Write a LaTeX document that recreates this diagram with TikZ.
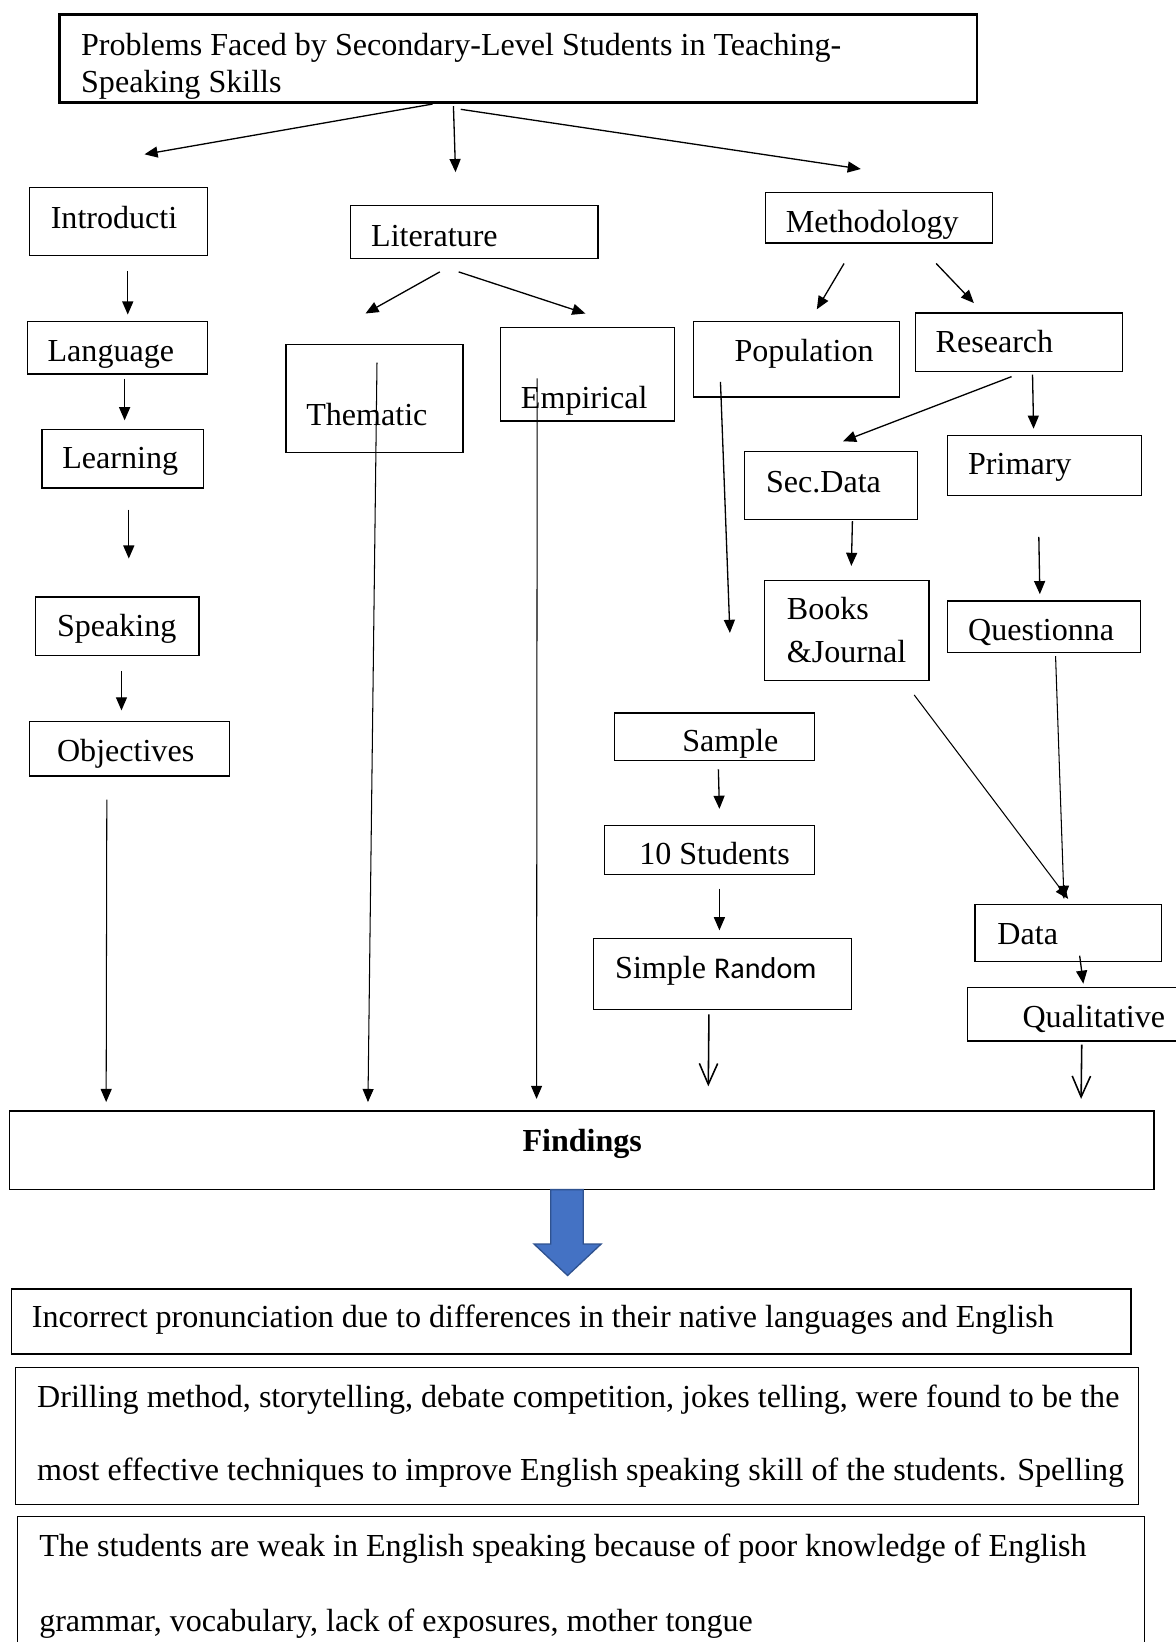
\documentclass[tikz,border=0pt]{standalone}
\usepackage{fontspec}
\setmainfont{Liberation Serif}
\newfontfamily\calibfont{Carlito}
\usepackage{tikz}
\usepackage{xcolor}
\usetikzlibrary{
  positioning, arrows.meta, calc, fit,
}
\definecolor{cBlock}    {HTML}{4472C4}
\definecolor{cBlockEdge}{HTML}{2F528F}

\tikzset{
  box/.style={draw, line width=0.5pt, inner sep=0pt},
  lbl/.style={anchor=base west, inner sep=0pt, font=\fontsize{12.25}{14}\selectfont},
  arr/.style={-{Triangle[length=5pt,width=4.2pt]}, line width=0.5pt},
  thinarr/.style={-{Triangle[length=5pt,width=4.2pt]}, line width=0.4pt},
  openarr/.style={-{Straight Barb[length=8pt,width=7pt]}, line width=0.6pt},
}

\begin{document}
\begin{tikzpicture}[x=0.4pt, y=-0.4pt]
        \path[use as bounding box] (0,0) rectangle (1123,1568);
        \clip (0,0) rectangle (1123,1568);

        % title
        \node[box, line width=1.1pt, fit={(57,14) (933,98)}] (title) {};
        \node[lbl] (title-a) at (77,53) {Problems Faced by Secondary-Level Students in Teaching-};
        \node[lbl] (title-b) at (77,88) {Speaking Skills};

        % first row
        \node[box, fit={(28,179) (198,244)}] (intro) {};
        \node[lbl] (intro-t) at (48,218) {Introducti};
        \node[box, fit={(335,196) (571,247)}] (lit) {};
        \node[lbl] (lit-t) at (354,235) {Literature};
        \node[box, fit={(731,184) (948,232)}] (meth) {};
        \node[lbl] (meth-t) at (750,222) {Methodology};

        % introduction column
        \node[box, fit={(26,307) (198,357)}] (lang) {};
        \node[lbl] (lang-t) at (45,345) {Language};
        \node[box, fit={(40,410) (194,466)}] (learn) {};
        \node[lbl] (learn-t) at (59,447) {Learning};
        \node[box, fit={(34,570) (190,626)}] (speak) {};
        \node[lbl] (speak-t) at (54,608) {Speaking};
        \node[box, fit={(28,689) (219,741)}] (obj) {};
        \node[lbl] (obj-t) at (54,727) {Objectives};

        % literature column
        \node[box, fit={(273,329) (442,432)}] (them) {};
        \node[lbl] (them-t) at (292,406) {Thematic};
        \node[box, fit={(478,313) (644,402)}] (emp) {};
        \node[lbl] (emp-t) at (497,390) {Empirical};

        % methodology column
        \node[box, fit={(662,307) (859,379)}] (pop) {};
        \node[lbl] (pop-t) at (701,345) {Population};
        \node[box, fit={(874,299) (1072,355)}] (res) {};
        \node[lbl] (res-t) at (893,337) {Research};
        \node[box, fit={(711,431) (876,496)}] (sec) {};
        \node[lbl] (sec-t) at (731,470) {Sec.Data};
        \node[box, fit={(905,416) (1090,473)}] (prim) {};
        \node[lbl] (prim-t) at (924,453) {Primary};
        \node[box, fit={(730,554) (887,650)}] (books) {};
        \node[lbl] (books-a) at (751,592) {Books};
        \node[lbl] (books-b) at (751,633) {\&Journal};
        \node[box, fit={(905,574) (1089,623)}] (quest) {};
        \node[lbl] (quest-t) at (924,612) {Questionna};
        \node[box, fit={(587,681) (778,726)}] (sample) {};
        \node[lbl] (sample-t) at (651,718) {Sample};
        \node[box, fit={(577,788) (778,835)}] (stud) {};
        \node[lbl] (stud-t) at (610,826) {10 Students};
        \node[box, fit={(567,896) (813,964)}] (rand) {};
        \node[lbl] (rand-t) at (587,934) {Simple {\calibfont\fontsize{11.5}{14}\selectfont Random}};
        \node[box, fit={(931,864) (1109,918)}] (data) {};
        \node[lbl] (data-t) at (952,902) {Data};
        \node[box, fit={(924,943) (1130,994)}] (qual) {};
        \node[lbl] (qual-t) at (976,981) {Qualitative};

        % findings
        \node[box, fit={(9,1061) (1102,1136)}] (find) {};
        \node[lbl, anchor=base, font=\fontsize{12.25}{14}\selectfont\bfseries] (find-t) at (556,1100) {Findings};
        \draw[fill=cBlock, draw=cBlockEdge, line width=0.5pt]
          (526,1136) -- (557,1136) -- (557,1188) -- (574,1188) -- (542,1218)
          -- (510,1188) -- (526,1188) -- cycle;

        \node[box, fit={(11,1231) (1080,1293)}] (out1) {};
        \node[lbl] (out1-t) at (30,1268) {Incorrect pronunciation due to differences in their native languages and English};
        \node[box, fit={(15,1306) (1087,1437)}] (out2) {};
        \node[lbl] (out2-a) at (35,1344) {Drilling method, storytelling, debate competition, jokes telling, were found to be the};
        \node[lbl] (out2-b) at (35,1414) {most effective techniques to improve English speaking skill of the students. Spelling};
        \node[box, fit={(17,1448) (1093,1590)}] (out3) {};
        \node[lbl] (out3-a) at (37,1486) {The students are weak in English speaking because of poor knowledge of English};
        \node[lbl] (out3-b) at (37,1558) {grammar, vocabulary, lack of exposures, mother tongue};

        % connectors
        \draw[arr] ([shift={(-82,0)}]title.south) -- ([shift={(25,-31)}]intro.north);
        \draw[arr] ([shift={(-62,2)}]title.south) -- ([shift={(-18,-31)}]lit.north);
        \draw[arr] ([shift={(-55,5)}]title.south) -- ([shift={(-17.5,-22)}]meth.north);

        \draw[arr] ([shift={(9,14)}]intro.south) -- ([shift={(10,-6)}]lang.north);
        \draw[arr] ([shift={(7,4)}]lang.south) -- ([shift={(2,-8)}]learn.north);
        \draw[arr] ([shift={(6,20)}]learn.south) -- ([shift={(11,-36)}]speak.north);
        \draw[arr] ([shift={(4,14)}]speak.south) -- ([shift={(-7.5,-10)}]obj.north);
        \draw[thinarr] ([shift={(-21.5,22)}]obj.south) -- ([shift={(93,-8)}]find.north west);

        \draw[arr] ([shift={(-33,12)}]lit.south) -- ([shift={(-8.5,-29)}]them.north);
        \draw[arr] ([shift={(-15,12)}]lit.south) -- ([shift={(-2,-13)}]emp.north);
        \draw[thinarr] ([shift={(2.5,18)}]them.north) -- ([shift={(343,-8)}]find.north west);
        \draw[thinarr] ([shift={(-48,49)}]emp.north) -- ([shift={(504,-11)}]find.north west);

        \draw[arr] ([shift={(-33.5,19)}]meth.south) -- ([shift={(19.5,-11)}]pop.north);
        \draw[arr] ([shift={(54.5,19)}]meth.south) -- ([shift={(-43,-9)}]res.north);
        \draw[arr] ([shift={(-72.5,-15)}]pop.south) -- ([shift={(14.5,-76)}]sample.north);
        \draw[arr] ([shift={(-7,4)}]res.south) -- ([shift={(11.5,-9)}]sec.north);
        \draw[arr] ([shift={(13,2)}]res.south) -- ([shift={(-10.5,-6)}]prim.north);
        \draw[arr] ([shift={(20.5,1)}]sec.south) -- ([shift={(4.5,-13)}]books.north);
        \draw[arr] ([shift={(-5.5,39)}]prim.south) -- ([shift={(-4,-6)}]quest.north);
        \draw[thinarr] ([shift={(64.5,13)}]books.south) -- ([shift={(0,-5)}]data.north);
        \draw[thinarr] ([shift={(11,3)}]quest.south) -- ([shift={(-4,-5)}]data.north);

        \draw[arr] ([shift={(3.5,8)}]sample.south) -- ([shift={(9.5,-15)}]stud.north);
        \draw[arr] ([shift={(9.5,13)}]stud.south) -- ([shift={(-3,-7)}]rand.north);
        \draw[openarr] ([shift={(-13,4)}]rand.south) -- ([shift={(668,-23)}]find.north west);
        \draw[arr] ([shift={(11,-6)}]data.south) -- ([shift={(7.5,-3)}]qual.north);
        \draw[openarr] ([shift={(6,3)}]qual.south) -- ([shift={(1024,-11)}]find.north west);
      \end{tikzpicture}
\end{document}
